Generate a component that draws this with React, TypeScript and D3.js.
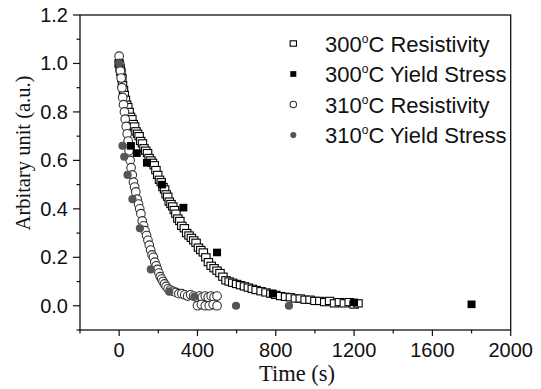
import React from "react";
import * as d3 from "d3";

// 300 C resistivity (open squares)
const t300Res = [
  0, 5, 9, 14, 17, 22, 26, 32, 38, 44, 51, 58, 65, 72, 79, 86, 94, 102, 110, 119,
  127, 136, 145, 153, 162, 170, 179, 188, 197, 206, 215, 224, 232, 240, 248, 256,
  265, 274, 282, 290, 300, 310, 320, 333, 345, 357, 369, 381, 393, 405, 417, 430,
  443, 456, 470, 485, 500, 515, 530, 546, 562, 580, 600, 620, 640, 660, 680, 700,
  725, 750, 775, 800, 825, 850, 875, 900, 925, 950, 975, 1000, 1025, 1050, 1075,
  1100, 1125, 1150, 1175, 1200, 1220,
];
const v300Res = [
  1.0, 0.98, 0.965, 0.94, 0.91, 0.89, 0.87, 0.85, 0.83, 0.82, 0.8, 0.78, 0.77, 0.75,
  0.74, 0.72, 0.71, 0.7, 0.68, 0.67, 0.65, 0.64, 0.63, 0.61, 0.6, 0.59, 0.58, 0.56,
  0.54, 0.52, 0.51, 0.49, 0.48, 0.46, 0.45, 0.43, 0.42, 0.41, 0.395, 0.38, 0.36,
  0.35, 0.33, 0.32, 0.3, 0.29, 0.28, 0.27, 0.26, 0.24, 0.23, 0.22, 0.2, 0.18, 0.165,
  0.155, 0.145, 0.135, 0.12, 0.105, 0.1, 0.095, 0.09, 0.085, 0.08, 0.075, 0.07,
  0.065, 0.06, 0.055, 0.05, 0.045, 0.04, 0.037, 0.035, 0.03, 0.03, 0.025, 0.025,
  0.02, 0.02, 0.015, 0.02, 0.01, 0.015, 0.01, 0.015, 0.005, 0.01,
];

// 300 C yield stress (filled squares)
const t300YS = [0, 60, 90, 142, 219, 328, 500, 785, 1200, 1800];
const v300YS = [1.0, 0.66, 0.63, 0.59, 0.5, 0.405, 0.22, 0.05, 0.014, 0.006];

// 310 C resistivity (open circles)
const t310Res = [
  0, 3, 6, 10, 14, 18, 22, 27, 31, 36, 41, 46, 51, 56, 61, 67, 73, 79, 85, 92, 99,
  105, 111, 118, 125, 132, 140, 147, 154, 161, 168, 175, 182, 189, 196, 203, 210,
  217, 224, 232, 240, 250, 262, 275, 290, 305, 320, 335, 350, 365, 380, 395, 410,
  425, 440, 455, 470, 485, 500, 400, 420, 440, 460, 480, 500,
];
const v310Res = [
  1.03, 1.0, 0.97, 0.94, 0.9, 0.86, 0.83, 0.8, 0.77, 0.74, 0.71, 0.68, 0.64, 0.6,
  0.57, 0.54, 0.51, 0.49, 0.47, 0.44, 0.42, 0.4, 0.38, 0.35, 0.33, 0.31, 0.29, 0.27,
  0.25, 0.23, 0.21, 0.2, 0.18, 0.165, 0.15, 0.135, 0.12, 0.11, 0.1, 0.09, 0.08, 0.07,
  0.065, 0.06, 0.055, 0.05, 0.05, 0.045, 0.04, 0.045, 0.04, 0.035, 0.04, 0.035, 0.04,
  0.035, 0.04, 0.035, 0.04, 0.0, 0.005, 0.0, 0.0, 0.005, 0.0,
];

// 310 C yield stress (filled grey circles)
const t310YS = [0, 17, 26, 43, 68, 106, 162, 256, 384, 597, 867];
const v310YS = [1.0, 0.66, 0.615, 0.54, 0.44, 0.32, 0.15, 0.058, 0.037, 0.0, 0.0];

const xTicks = [0, 400, 800, 1200, 1600, 2000];
const yTicks = [0, 0.2, 0.4, 0.6, 0.8, 1.0, 1.2];

const legendTemps = ["300", "300", "310", "310"];
const legendLabels = ["Resistivity", "Yield Stress", "Resistivity", "Yield Stress"];
const legendKinds = ["openSq", "fillSq", "openCi", "fillCi"];

const sans = "'Liberation Sans', Arial, sans-serif";
const serif = "'Liberation Serif', 'Times New Roman', serif";
const grey = "#555";

function Marker({ kind, cx, cy, s = 1 }: { kind: string; cx: number; cy: number; s?: number }) {
  if (kind === "openSq")
    return <rect x={cx - 4.2 * s} y={cy - 3.6 * s} width={8.4 * s} height={7.2 * s} fill="#fff" stroke="#000" strokeWidth={1.1} />;
  if (kind === "fillSq")
    return <rect x={cx - 4 * s} y={cy - 3.8 * s} width={8 * s} height={7.6 * s} fill="#000" />;
  if (kind === "openCi")
    return <circle cx={cx} cy={cy} r={4.3 * s} fill="#fff" stroke="#333" strokeWidth={1.1} />;
  return <circle cx={cx} cy={cy} r={4.1 * s} fill={grey} />;
}

export default function App() {
  const x = d3.scaleLinear().domain([-200, 2000]).range([80, 510.7]);
  const y = d3.scaleLinear().domain([-0.1, 1.2]).range([330, 15]);
  const [x0, x1] = x.range();
  const [y0, y1] = y.range();

  const xMinor = d3.range(-200, 2001, 200).filter((d) => d % 400 !== 0);
  const yMinor = d3.range(-1, 12).map((d) => d / 10).filter((d) => Math.round(d * 10) % 2 !== 0);

  // open markers first, filled ones on top
  const series = [
    { kind: "openSq", t: t300Res, v: v300Res },
    { kind: "openCi", t: t310Res, v: v310Res },
    { kind: "fillSq", t: t300YS, v: v300YS },
    { kind: "fillCi", t: t310YS, v: v310YS },
  ];

  return (
    <div style={{ position: "fixed", left: 0, top: 0 }}>
      <svg width={541} height={389} style={{ display: "block", background: "#fff" }}>
        <g fill="#111">
          {/* frame */}
          <rect x={x0} y={y1} width={x1 - x0} height={y0 - y1} fill="none" stroke="#111" strokeWidth={1.3} />

          {/* x ticks */}
          {xTicks.map((d) => (
            <g key={"xt" + d}>
              <line x1={x(d)} x2={x(d)} y1={y0} y2={y0 + 6} stroke="#111" strokeWidth={1.2} />
              <text x={x(d)} y={357} textAnchor="middle" fontFamily={sans} fontSize={20}>
                {d}
              </text>
            </g>
          ))}
          {xMinor.map((d) => (
            <line key={"xm" + d} x1={x(d)} x2={x(d)} y1={y0} y2={y0 + 3.5} stroke="#111" strokeWidth={1.2} />
          ))}

          {/* y ticks */}
          {yTicks.map((d) => (
            <g key={"yt" + d}>
              <line x1={x0 - 7} x2={x0} y1={y(d)} y2={y(d)} stroke="#111" strokeWidth={1.2} />
              <text x={68} y={y(d) + 7} textAnchor="end" fontFamily={sans} fontSize={20}>
                {d.toFixed(1)}
              </text>
            </g>
          ))}
          {yMinor.map((d) => (
            <line key={"ym" + d} x1={x0 - 3.5} x2={x0} y1={y(d)} y2={y(d)} stroke="#111" strokeWidth={1.2} />
          ))}

          {/* axis titles */}
          <text x={297} y={381} textAnchor="middle" fontFamily={serif} fontSize={22.5}>
            Time (s)
          </text>
          <text transform="translate(30,153) rotate(-90)" textAnchor="middle" fontFamily={serif} fontSize={20.5}>
            Arbitary unit (a.u.)
          </text>
        </g>

        {/* data */}
        {series.map((s) => (
          <g key={s.kind}>
            {s.t.map((t, i) => (
              <Marker key={i} kind={s.kind} cx={x(t)} cy={y(s.v[i])} />
            ))}
          </g>
        ))}

        {/* legend */}
        {legendKinds.map((kind, i) => {
          const cy = 43.5 + i * 30.5;
          return (
            <g key={i}>
              <Marker kind={kind} cx={293.3} cy={cy} s={0.75} />
              <text x={325} y={cy + 8} fontFamily={sans} fontSize={22} fill="#111">
                {legendTemps[i]}
                <tspan fontSize={12} dy={-9}>o</tspan>
                <tspan dy={9}>C {legendLabels[i]}</tspan>
              </text>
            </g>
          );
        })}
      </svg>
    </div>
  );
}
